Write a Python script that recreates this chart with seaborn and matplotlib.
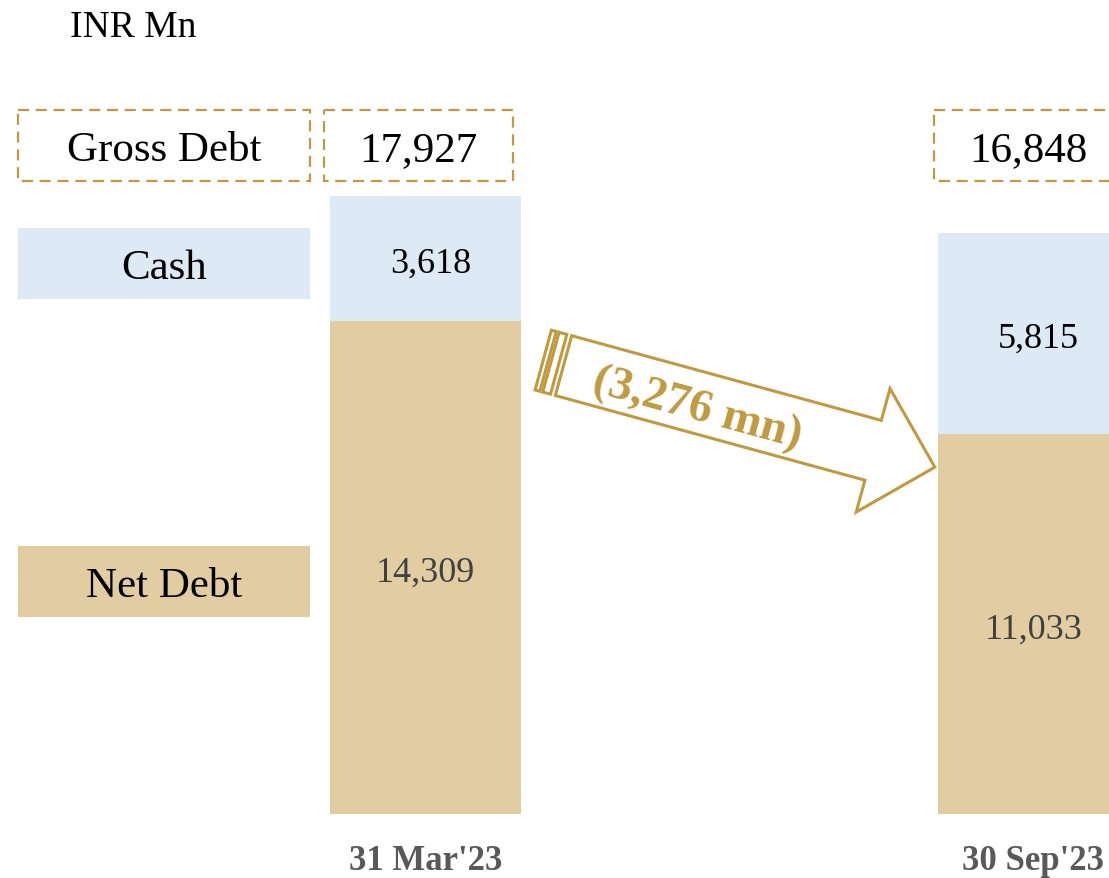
import numpy as np
import pandas as pd
import matplotlib
matplotlib.use("Agg")
import matplotlib.pyplot as plt
import seaborn as sns
from matplotlib.patches import Rectangle, Polygon

# === Data ===
periods = ["31 Mar'23", "30 Sep'23"]
cash = [3618, 5815]
net_debt = [14309, 11033]
gross_debt = [c + n for c, n in zip(cash, net_debt)]
row_labels = ["Gross Debt", "Cash", "Net Debt"]
unit_label = "INR Mn"

# === Style ===
sns.set_theme(style="white")
plt.rcParams["font.family"] = ["Liberation Serif", "DejaVu Serif"]
plt.rcParams["text.color"] = "black"
CASH_C = "#DDE9F5"
NET_C = "#E2CDA2"
GOLD = "#C09A40"
W, H = 1109, 879

df = pd.DataFrame({"period": periods, "cash": cash, "net": net_debt, "gross": gross_debt})

fig = plt.figure(figsize=(W / 100, H / 100), dpi=100)
ax = fig.add_axes([0, 0, 1, 1])

# bars: gross (cash colour) with net debt stacked underneath
sns.barplot(data=df, x="period", y="gross", color=CASH_C, width=0.314, saturation=1, ax=ax)
sns.barplot(data=df, x="period", y="net", color=NET_C, width=0.314, saturation=1, ax=ax)
for p in ax.patches:
    p.set_edgecolor("none")

px = 0.03447  # pixels per INR Mn
ax.set_ylim(-(H - 815) / px, 815 / px)
ax.set_xlim(-425.5 / 608, (W - 425.5) / 608)
ax.axis("off")

# values inside bars (nudged ~5px down to sit like the original)
nudge = 5 / px
for i, row in df.iterrows():
    ax.text(i + 0.008, row["net"] + row["cash"] / 2 - nudge, f"{row['cash']:,}", ha="center",
            va="center", fontsize=26, color="black")
    ax.text(i, row["net"] / 2 - nudge, f"{row['net']:,}", ha="center", va="center",
            fontsize=26, color="#404040")
    ax.text(i, -1340, row["period"], ha="center", va="center", fontsize=25,
            fontweight="bold", color="#595959")

# === Overlay in pixel coordinates for labels / boxes / arrow ===
ov = fig.add_axes([0, 0, 1, 1], zorder=3)
ov.set_xlim(0, W)
ov.set_ylim(H, 0)
ov.axis("off")
ov.patch.set_alpha(0)

ov.text(70, 28, unit_label, ha="left", va="center", fontsize=27, color="black")

dash = dict(fill=False, edgecolor=GOLD, linewidth=1.6, linestyle=(0, (5, 3)))
ov.add_patch(Rectangle((18, 111), 292, 71, **dash))
ov.text(164, 151, row_labels[0], ha="center", va="center", fontsize=31)
ov.add_patch(Rectangle((18, 229), 292, 71, facecolor=CASH_C, edgecolor="none"))
ov.text(164, 269, row_labels[1], ha="center", va="center", fontsize=31)
ov.add_patch(Rectangle((18, 547), 292, 71, facecolor=NET_C, edgecolor="none"))
ov.text(164, 587, row_labels[2], ha="center", va="center", fontsize=31)

# gross debt value boxes above each bar
for x0, val in zip([324, 934], gross_debt):
    ov.add_patch(Rectangle((x0, 111), 189, 71, **dash))
    ov.text(x0 + 94, 151, f"{val:,}", ha="center", va="center", fontsize=31)

# striped block arrow
ang = np.deg2rad(15.3)
d = np.array([np.cos(ang), np.sin(ang)])
n = np.array([-np.sin(ang), np.cos(ang)])
origin = np.array([563.5, 366.6])


def pt(a, b):
    return origin + a * d + b * n


shaft_half, head_half, head_base, tip = 31, 64, 321, 385
arrow = [pt(0, -shaft_half), pt(head_base, -shaft_half), pt(head_base, -head_half),
         pt(tip, 0), pt(head_base, head_half), pt(head_base, shaft_half), pt(0, shaft_half)]
ov.add_patch(Polygon(arrow, closed=True, facecolor="white", edgecolor=GOLD, linewidth=2.2))
for a0, a1 in [(-21, -16), (-13, -5)]:
    ov.add_patch(Polygon([pt(a0, -shaft_half), pt(a1, -shaft_half), pt(a1, shaft_half), pt(a0, shaft_half)],
                         closed=True, facecolor="white", edgecolor=GOLD, linewidth=2.2))

change = net_debt[0] - net_debt[1]
c = pt(140, 6)
ov.text(c[0], c[1], f"({change:,} mn)", ha="center", va="center", fontsize=34,
        fontweight="bold", color=GOLD, rotation=-15.3, rotation_mode="anchor")

plt.savefig("out.png", dpi=100)
